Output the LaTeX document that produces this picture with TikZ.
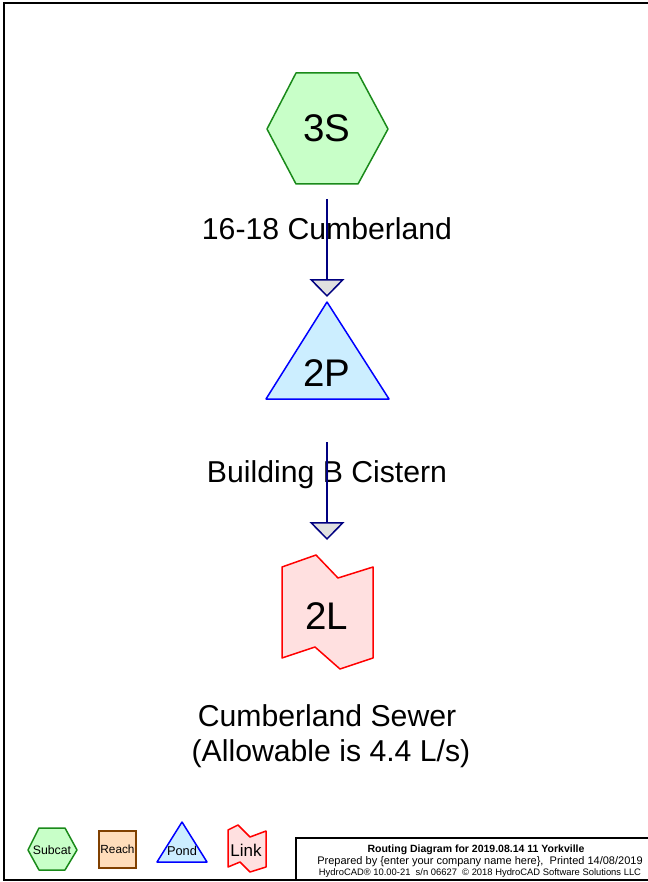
\documentclass[tikz,border=0pt]{standalone}
\usepackage{fontspec}
\setmainfont{Liberation Sans}
\usetikzlibrary{arrows.meta}
\definecolor{subfill}{HTML}{C8FFC8}
\definecolor{subline}{HTML}{1A8A1A}
\definecolor{pondfill}{HTML}{CCEEFF}
\definecolor{pondline}{HTML}{0000FF}
\definecolor{linkfill}{HTML}{FFE0E0}
\definecolor{linkline}{HTML}{FF0000}
\definecolor{reachfill}{HTML}{FFDDBB}
\definecolor{reachline}{HTML}{804000}
\definecolor{flowline}{HTML}{000080}
\definecolor{headfill}{HTML}{E0E0E0}
\tikzset{
  subshape/.style={draw=subline, fill=subfill, line width=1.5pt, line join=round},
  pondshape/.style={draw=pondline, fill=pondfill, line width=1.5pt, line join=round},
  linkshape/.style={draw=linkline, fill=linkfill, line width=1.5pt, line join=round},
  reachshape/.style={draw=reachline, fill=reachfill, line width=1.5pt},
  idtext/.style={font=\fontsize{38.5}{40}\selectfont, anchor=base, inner sep=0pt},
  lbltext/.style={font=\fontsize{30.2}{32}\selectfont, anchor=base, inner sep=0pt},
  flow/.style={draw=flowline, line width=1.5pt, -{Triangle[length=18pt,width=35pt,fill=headfill]}},
  frame/.style={draw=black, line width=2.8pt},
}
\begin{document}
\begin{tikzpicture}[x=1pt,y=-1pt]
\useasboundingbox (0,0) rectangle (647,882);
\fill[white] (0,0) rectangle (647,882);
% frame
\draw[frame] (650,3) -- (4,3) -- (4,880) -- (650,880);
% 3S hexagon
\draw[subshape] (267,129) -- (296,73) -- (358,73) -- (388,129) -- (358,184) -- (296,184) -- cycle;
\node[idtext] (n3S) at (327,142) {3S};
% 2P triangle
\draw[pondshape] (327,302) -- (389,399) -- (266,399) -- cycle;
\node[idtext] (n2P) at (327,386) {2P};
% 2L link
\draw[linkshape] (282,567) -- (316,555) -- (338,578) -- (373,567) -- (373,658) -- (340,669) -- (315,647) -- (282,658) -- cycle;
\node[idtext] (n2L) at (327,629) {2L};
% labels
\node[lbltext] (l3S) at (327,240) {16-18 Cumberland};
\node[lbltext] (l2P) at (327,482) {Building B Cistern};
\node[lbltext] (l2La) at (327,726) {Cumberland Sewer};
\node[lbltext] (l2Lb) at (331,761) {(Allowable is 4.4 L/s)};
% flows
\coordinate (f1s) at (327,199);
\coordinate (f1e) at (327,297);
\coordinate (f2s) at (327,442);
\coordinate (f2e) at (327,540);
\draw[flow] (f1s) -- (f1e);
\draw[flow] (f2s) -- (f2e);
% legend
\draw[subshape] (28,850) -- (39,828) -- (65,828) -- (77,850) -- (65,870) -- (39,870) -- cycle;
\node[font=\fontsize{12.3}{13}\selectfont, inner sep=0pt] (lgS) at (52,850) {Subcat};
\draw[reachshape] (99,831) rectangle (136,868);
\node[font=\fontsize{11.8}{12}\selectfont, inner sep=0pt] (lgR) at (117.5,849.5) {Reach};
\draw[pondshape] (182,822) -- (207,862) -- (157,862) -- cycle;
\node[font=\fontsize{12.8}{13}\selectfont, inner sep=0pt] (lgP) at (182,851) {Pond};
\draw[linkshape] (228,830) -- (238,825) -- (250,837) -- (266,831) -- (266,867) -- (250,872) -- (240,862) -- (228,867) -- cycle;
\node[font=\fontsize{17}{18}\selectfont, inner sep=0pt] (lgL) at (246,850) {Link};
% title block
\draw[frame] (650,838) -- (296,838) -- (296,880);
\node[font=\bfseries\fontsize{10.5}{11}\selectfont, anchor=base, inner sep=0pt] (tb1) at (476,852) {Routing Diagram for 2019.08.14 11 Yorkville};
\node[font=\fontsize{11}{12}\selectfont, anchor=base, inner sep=0pt] (tb2) at (480,864) {Prepared by \{enter your company name here\},\ \ Printed 14/08/2019};
\node[font=\fontsize{9.4}{10}\selectfont, anchor=base, inner sep=0pt] (tb3) at (480,875) {HydroCAD® 10.00-21\ \ s/n 06627\ \ © 2018 HydroCAD Software Solutions LLC};
\end{tikzpicture}
\end{document}
